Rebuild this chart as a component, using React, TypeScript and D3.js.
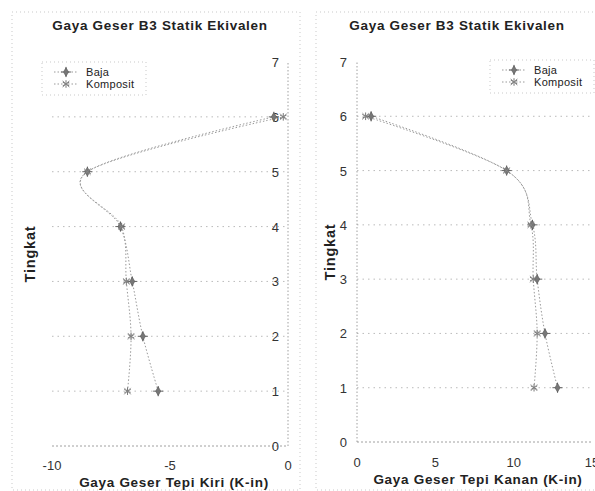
import React from "react";
import * as d3 from "d3";

const levels = [1, 2, 3, 4, 5, 6];
const bajaKiri = [-5.5, -6.15, -6.6, -7.1, -8.5, -0.6];
const kompositKiri = [-6.8, -6.65, -6.85, -7.05, -8.5, -0.2];
const bajaKanan = [12.8, 12.0, 11.5, 11.2, 9.55, 0.9];
const kompositKanan = [11.3, 11.5, 11.25, 11.1, 9.55, 0.55];
const yTicks = [0, 1, 2, 3, 4, 5, 6, 7];
const xTicksKiri = [-10, -5, 0];
const xTicksKanan = [0, 5, 10, 15];
const title = "Gaya Geser B3 Statik Ekivalen";
const seriesNames = ["Baja", "Komposit"];

const FONT = "'Liberation Sans', Arial, sans-serif";
const GREY = "#9a9a9a";

function Marker({ kind, x, y }: { kind: number; x: number; y: number }) {
  if (kind === 0) {
    const d = d3.symbol().type(d3.symbolDiamond).size(22)()!;
    const p = d3.symbol().type(d3.symbolPlus).size(36)()!;
    return (
      <g transform={`translate(${x},${y})`}>
        <path d={p} fill="none" stroke="#666" strokeWidth={1} />
        <path d={d} fill="#777" stroke="#555" strokeWidth={0.6} />
      </g>
    );
  }
  const a = d3.symbol().type(d3.symbolAsterisk).size(40)()!;
  const xx = d3.symbol().type(d3.symbolX).size(30)()!;
  return (
    <g transform={`translate(${x},${y})`}>
      <path d={a} fill="none" stroke="#777" strokeWidth={1} />
      <path d={xx} fill="none" stroke="#888" strokeWidth={0.8} />
    </g>
  );
}

type PanelProps = {
  xDomain: [number, number];
  xRange: [number, number];
  yRange: [number, number];
  xTicks: number[];
  baja: number[];
  komposit: number[];
  xTitle: string;
  xTitleX: number;
  titleX: number;
  tingkatX: number;
  legendX: number;
  legendY: number;
  yLabelX: number;
  xLabelY: number;
  xTitleY: number;
  box: [number, number, number, number];
};

function Panel(p: PanelProps) {
  const x = d3.scaleLinear().domain(p.xDomain).range(p.xRange);
  const y = d3.scaleLinear().domain([0, 7]).range(p.yRange);
  const axisX = x(0);
  const line = d3
    .line<[number, number]>()
    .x((d) => x(d[0]))
    .y((d) => y(d[1]))
    .curve(d3.curveCatmullRom.alpha(0));
  const series = [p.baja, p.komposit];
  const [bx, by, bw, bh] = p.box;
  return (
    <g>
      <rect x={bx} y={by} width={bw} height={bh} fill="none" stroke="#bbb" strokeWidth={0.8} strokeDasharray="1 3" />
      <text x={p.titleX} y={30} textAnchor="middle" fontSize={13.5} letterSpacing={0.7} fontWeight="bold" fill="#222" fontFamily={FONT}>
        {title}
      </text>
      {yTicks.slice(1, 7).map((t) => (
        <line key={t} x1={Math.min(...p.xRange)} x2={Math.max(...p.xRange)} y1={y(t)} y2={y(t)} stroke="#aaa" strokeWidth={0.8} strokeDasharray="1.5 4" />
      ))}
      <line x1={axisX} x2={axisX} y1={y(0)} y2={y(7)} stroke="#888" strokeWidth={0.8} strokeDasharray="1.5 2" />
      <line x1={Math.min(...p.xRange)} x2={Math.max(...p.xRange)} y1={y(0)} y2={y(0)} stroke="#888" strokeWidth={0.8} strokeDasharray="2 2" />
      {yTicks.map((t) => (
        <text key={t} x={p.yLabelX} y={y(t) + 5} textAnchor="end" fontSize={13} fill="#333" fontFamily={FONT}>
          {t}
        </text>
      ))}
      {p.xTicks.map((t) => (
        <text key={t} x={x(t)} y={p.xLabelY} textAnchor="middle" fontSize={13} fill="#333" fontFamily={FONT}>
          {t < 0 ? `-${Math.abs(t)}` : t}
        </text>
      ))}
      <text x={p.xTitleX} y={p.xTitleY} textAnchor="middle" fontSize={13.5} letterSpacing={0.7} fontWeight="bold" fill="#222" fontFamily={FONT}>
        {p.xTitle}
      </text>
      <text transform={`translate(${p.tingkatX},${(y(0) + y(7)) / 2}) rotate(-90)`} textAnchor="middle" fontSize={14.5} letterSpacing={0.8} fontWeight="bold" fill="#222" fontFamily={FONT}>
        Tingkat
      </text>
      {series.map((s, i) => (
        <path key={i} d={line(s.map((v, j) => [v, levels[j]] as [number, number]))!} fill="none" stroke={GREY} strokeWidth={1} strokeDasharray="1.5 2" />
      ))}
      {series.map((s, i) =>
        s.map((v, j) => <Marker key={`${i}-${j}`} kind={i} x={x(v)} y={y(levels[j])} />)
      )}
      <g transform={`translate(${p.legendX},${p.legendY})`}>
        <rect x={0} y={0} width={104} height={33} fill="white" stroke="#bbb" strokeWidth={0.8} strokeDasharray="1 3" />
        {seriesNames.map((n, i) => (
          <g key={n} transform={`translate(0,${10 + i * 12})`}>
            <line x1={12} x2={36} y1={0} y2={0} stroke={GREY} strokeDasharray="1.5 2" />
            <Marker kind={i} x={24} y={0} />
            <text x={44} y={4} fontSize={11} letterSpacing={0.3} fill="#222" fontFamily={FONT}>
              {n}
            </text>
          </g>
        ))}
      </g>
    </g>
  );
}

export default function App() {
  return (
    <svg width={595} height={491} style={{ position: "absolute", left: 0, top: 0, background: "white" }}>
      <rect width={595} height={491} fill="white" />
      <Panel
        xDomain={[-10, 0]}
        xRange={[52, 288]}
        yRange={[446, 62]}
        xTicks={xTicksKiri}
        baja={bajaKiri}
        komposit={kompositKiri}
        xTitle="Gaya Geser Tepi Kiri (K-in)"
        xTitleX={174}
        titleX={160}
        tingkatX={35}
        legendX={42}
        legendY={62}
        yLabelX={279}
        xLabelY={470}
        xTitleY={487}
        box={[12, 12, 288, 478]}
      />
      <Panel
        xDomain={[0, 15]}
        xRange={[357, 592]}
        yRange={[442, 62]}
        xTicks={xTicksKanan}
        baja={bajaKanan}
        komposit={kompositKanan}
        xTitle="Gaya Geser Tepi Kanan (K-in)"
        xTitleX={478}
        titleX={457}
        tingkatX={335}
        legendX={490}
        legendY={60}
        yLabelX={347}
        xLabelY={467}
        xTitleY={484}
        box={[316, 12, 290, 478]}
      />
    </svg>
  );
}
